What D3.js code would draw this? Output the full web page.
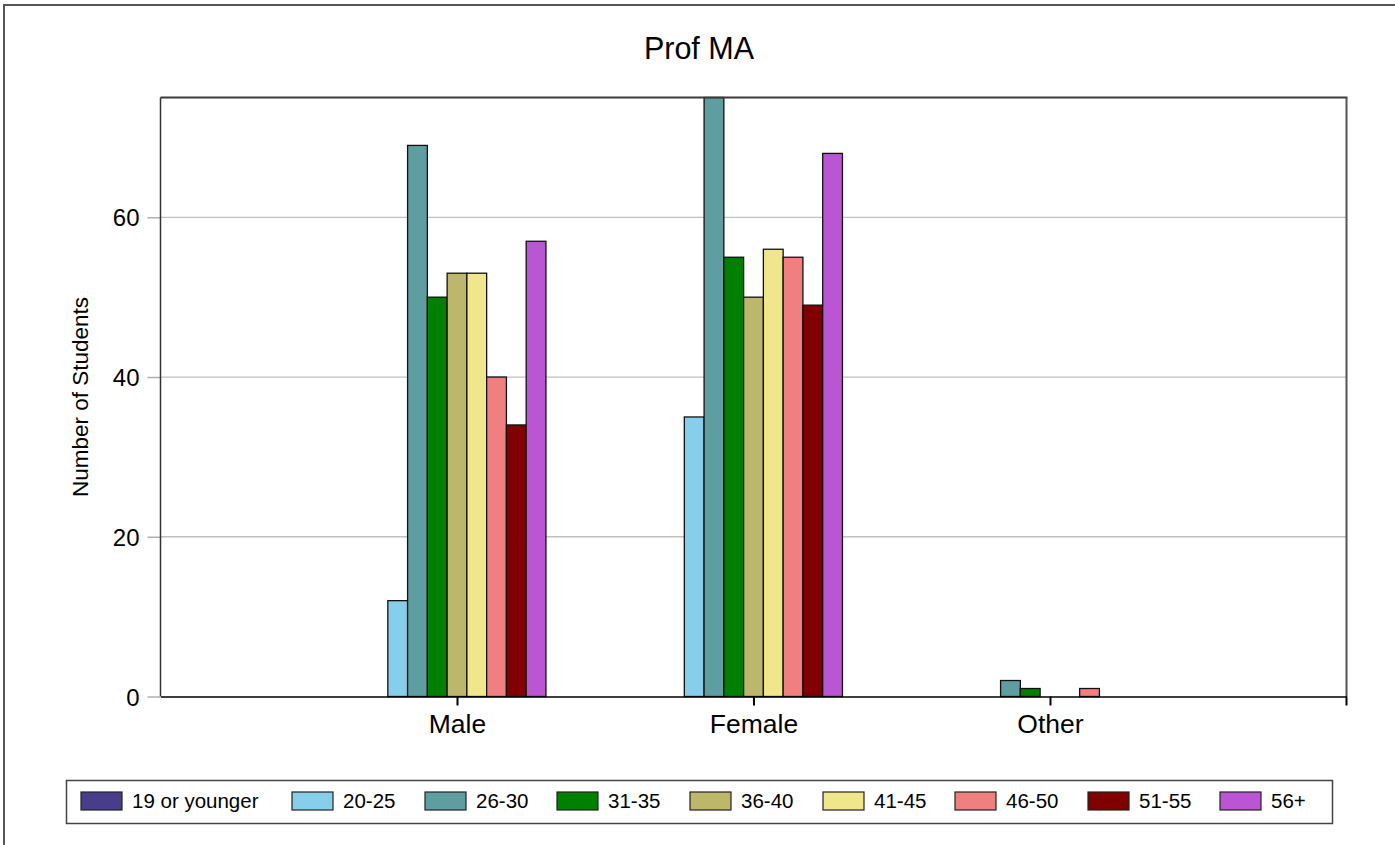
<!DOCTYPE html>
<html>
<head>
<meta charset="utf-8">
<script src="https://cdn.jsdelivr.net/npm/d3@7"></script>
<style>
body{margin:0;background:#fff;}
text{font-family:"Liberation Sans",Arial,sans-serif;fill:#000;}
</style>
</head>
<body>
<svg id="c" width="1395" height="845"></svg>
<script>
const title = "Prof MA";
const yTitle = "Number of Students";
const genders = ["Male", "Female", "Other"];
const ageGroups = ["19 or younger","20-25","26-30","31-35","36-40","41-45","46-50","51-55","56+"];
const colors = ["#483d8b","#87ceeb","#5f9ea0","#008000","#bdb76b","#f0e68c","#f08080","#800000","#ba55d3"];
const male   = [0, 12, 69, 50, 53, 53, 40, 34, 57];
const female = [0, 35, 75, 55, 50, 56, 55, 49, 68];
const other  = [0, 0, 2, 1, 0, 0, 1, 0, 0];
const yTicks = [0, 20, 40, 60];
const yMax = 75;

const seriesByGender = [male, female, other];
const svg = d3.select("#c");

// outer frame
svg.append("rect").attr("x",4).attr("y",5).attr("width",1420).attr("height",900)
  .attr("fill","none").attr("stroke","#555").attr("stroke-width",2);

const L=160.5, R=1346.5, T=97.5, B=696.5;
const x = d3.scalePoint().domain(genders).range([L,R]).padding(1);
const groupW = x.step()*0.6;
const xi = d3.scaleBand().domain(ageGroups).range([-groupW/2, groupW/2]);
const y = d3.scaleLinear().domain([0,yMax]).range([B,T]);

// gridlines
svg.append("g").selectAll("line").data(yTicks.filter(d=>d>0)).join("line")
  .attr("x1",L).attr("x2",R).attr("y1",d=>y(d)).attr("y2",d=>y(d))
  .attr("stroke","#c0c0c0").attr("stroke-width",1.3);

// y axis
const yAxis = svg.append("g").attr("transform",`translate(${L},0)`)
  .call(d3.axisLeft(y).tickValues(yTicks).tickSize(13).tickPadding(8).tickFormat(d3.format("d")));
yAxis.select(".domain").remove();
yAxis.selectAll(".tick line").attr("stroke","#b0b0b0").attr("stroke-width",1.5);
yAxis.selectAll(".tick text").style("font-size","24px").attr("dy","0.36em");

// bars
const data = [];
genders.forEach((g,gi)=>ageGroups.forEach((a,ai)=>{
  data.push({g, a, v: seriesByGender[gi][ai], c: colors[ai]});
}));
svg.append("g").selectAll("rect").data(data.filter(d=>d.v>0)).join("rect")
  .attr("x",d=>x(d.g)+xi(d.a))
  .attr("width",xi.bandwidth())
  .attr("y",d=>y(d.v))
  .attr("height",d=>B-y(d.v))
  .attr("fill",d=>d.c).attr("stroke","#111").attr("stroke-width",1.3);

// frame lines
svg.append("line").attr("x1",L).attr("x2",R+1).attr("y1",T).attr("y2",T).attr("stroke","#3a3a3a").attr("stroke-width",2);
svg.append("line").attr("x1",R).attr("x2",R).attr("y1",T).attr("y2",B).attr("stroke","#555").attr("stroke-width",2);
svg.append("line").attr("x1",L).attr("x2",L).attr("y1",T).attr("y2",B).attr("stroke","#333").attr("stroke-width",1.5);

// x axis
const xAxis = svg.append("g").attr("transform",`translate(0,${B})`)
  .call(d3.axisBottom(x).tickSize(9).tickSizeOuter(0));
xAxis.select(".domain").attr("stroke","#000").attr("stroke-width",1.5);
xAxis.selectAll(".tick line").attr("stroke","#000").attr("stroke-width",2);
xAxis.selectAll(".tick text").style("font-size","26.5px").attr("y",36).attr("dy","0");
svg.append("line").attr("x1",R).attr("x2",R).attr("y1",B).attr("y2",B+9).attr("stroke","#000").attr("stroke-width",2);

// titles
svg.append("text").attr("x",699).attr("y",59).attr("text-anchor","middle").style("font-size","30.5px").text(title);
svg.append("text").attr("transform","translate(88,397) rotate(-90)").attr("text-anchor","middle")
  .style("font-size","22.5px").text(yTitle);

// legend
svg.append("rect").attr("x",66.5).attr("y",780.5).attr("width",1266).attr("height",43)
  .attr("fill","#fff").attr("stroke","#444").attr("stroke-width",1.5);
const legX = [81,292,425,557,690,823,955,1088,1220];
const lg = svg.append("g").selectAll("g").data(ageGroups).join("g")
  .attr("transform",(d,i)=>`translate(${legX[i]},792)`);
lg.append("rect").attr("width",41).attr("height",18).attr("fill",(d,i)=>colors[i]).attr("stroke","#222").attr("stroke-width",1.2);
lg.append("text").attr("x",51).attr("y",9).attr("dy","0.36em").style("font-size","20.5px").text(d=>d);
</script>
</body>
</html>
